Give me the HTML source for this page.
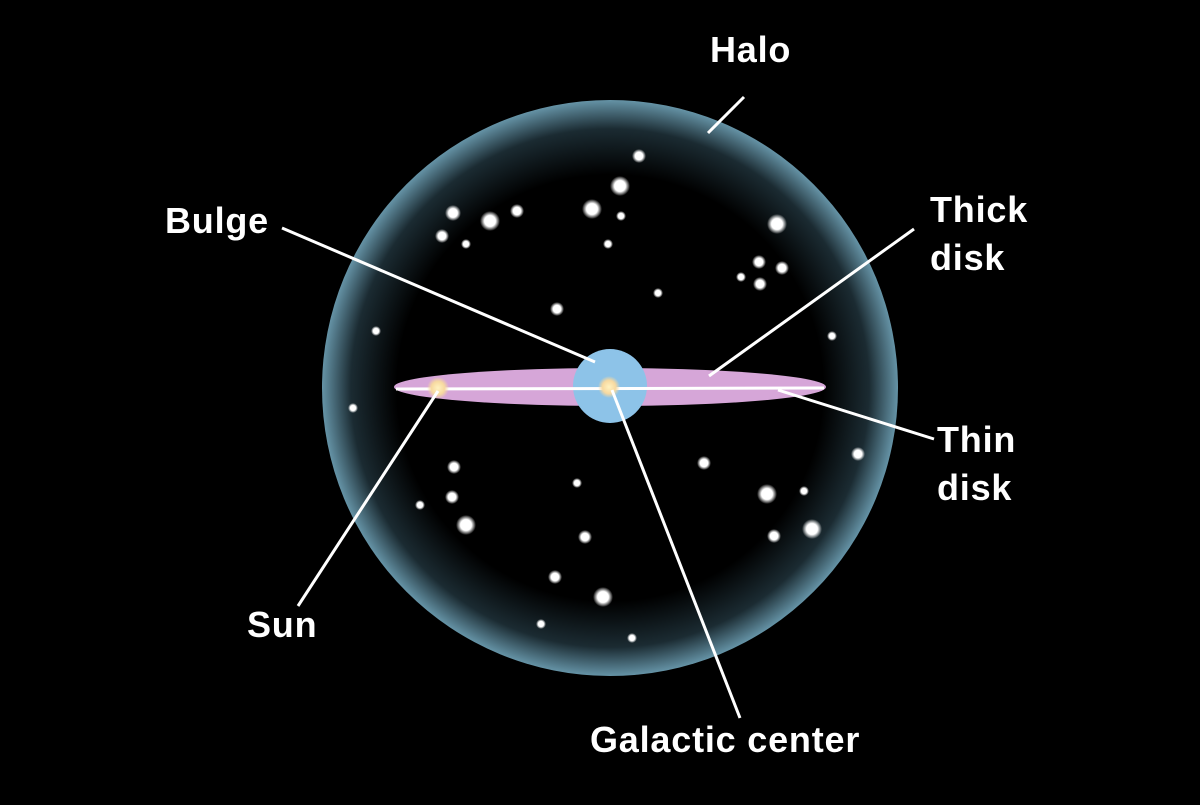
<!DOCTYPE html>
<html><head><style>
html,body{margin:0;padding:0;background:#000;}
text{font-family:"Liberation Sans",sans-serif;font-weight:bold;font-size:36px;letter-spacing:0.8px;fill:#fff;}
</style></head><body>
<svg width="1200" height="800" viewBox="0 0 1200 800" xmlns="http://www.w3.org/2000/svg">
<defs>
<radialGradient id="halo" cx="610" cy="388" r="288" gradientUnits="userSpaceOnUse">
<stop offset="0" stop-color="#000"/>
<stop offset="0.74" stop-color="#000"/>
<stop offset="0.9" stop-color="#1b2b32"/>
<stop offset="1" stop-color="#6593a6"/>
</radialGradient>
<radialGradient id="star">
<stop offset="0" stop-color="#fff"/>
<stop offset="0.55" stop-color="#fff"/>
<stop offset="1" stop-color="#fff" stop-opacity="0"/>
</radialGradient>
<radialGradient id="sun">
<stop offset="0" stop-color="#fff2c0"/>
<stop offset="0.6" stop-color="#f7d9a0"/>
<stop offset="1" stop-color="#f7d9a0" stop-opacity="0"/>
</radialGradient>
</defs>
<rect width="1200" height="800" fill="#000"/>
<circle cx="610" cy="388" r="288" fill="url(#halo)"/>
<g fill="url(#star)">
<circle cx="639" cy="156" r="7"/>
<circle cx="620" cy="186" r="10"/>
<circle cx="592" cy="209" r="10"/>
<circle cx="621" cy="216" r="5"/>
<circle cx="608" cy="244" r="5"/>
<circle cx="453" cy="213" r="8"/>
<circle cx="490" cy="221" r="10"/>
<circle cx="517" cy="211" r="7"/>
<circle cx="442" cy="236" r="7"/>
<circle cx="466" cy="244" r="5"/>
<circle cx="777" cy="224" r="10"/>
<circle cx="759" cy="262" r="7"/>
<circle cx="782" cy="268" r="7"/>
<circle cx="741" cy="277" r="5"/>
<circle cx="760" cy="284" r="7"/>
<circle cx="658" cy="293" r="5"/>
<circle cx="557" cy="309" r="7"/>
<circle cx="376" cy="331" r="5"/>
<circle cx="832" cy="336" r="5"/>
<circle cx="353" cy="408" r="5"/>
<circle cx="858" cy="454" r="7"/>
<circle cx="454" cy="467" r="7"/>
<circle cx="704" cy="463" r="7"/>
<circle cx="577" cy="483" r="5"/>
<circle cx="452" cy="497" r="7"/>
<circle cx="420" cy="505" r="5"/>
<circle cx="767" cy="494" r="10"/>
<circle cx="804" cy="491" r="5"/>
<circle cx="466" cy="525" r="10"/>
<circle cx="812" cy="529" r="10"/>
<circle cx="774" cy="536" r="7"/>
<circle cx="585" cy="537" r="7"/>
<circle cx="555" cy="577" r="7"/>
<circle cx="603" cy="597" r="10"/>
<circle cx="541" cy="624" r="5"/>
<circle cx="632" cy="638" r="5"/>
</g>
<ellipse cx="610" cy="387" rx="216" ry="19" fill="#d6a6d8"/>
<circle cx="610" cy="386" r="37" fill="#8dc3e8"/>
<line x1="396" y1="389" x2="824" y2="388" stroke="#fff" stroke-width="3"/>
<circle cx="438" cy="388" r="11" fill="url(#sun)"/>
<circle cx="609" cy="387" r="11" fill="url(#sun)"/>
<g stroke="#fff" stroke-width="3" stroke-linecap="butt">
<line x1="744" y1="97" x2="708" y2="133"/>
<line x1="282" y1="228" x2="595" y2="362"/>
<line x1="914" y1="229" x2="709" y2="376"/>
<line x1="934" y1="439" x2="778" y2="390"/>
<line x1="438" y1="391" x2="298" y2="606"/>
<line x1="612" y1="390" x2="740" y2="718"/>
</g>
<text x="710" y="62">Halo</text>
<text x="165" y="233">Bulge</text>
<text x="930" y="222">Thick</text>
<text x="930" y="270">disk</text>
<text x="937" y="452">Thin</text>
<text x="937" y="500">disk</text>
<text x="247" y="637">Sun</text>
<text x="590" y="752">Galactic center</text>
</svg>
</body></html>
